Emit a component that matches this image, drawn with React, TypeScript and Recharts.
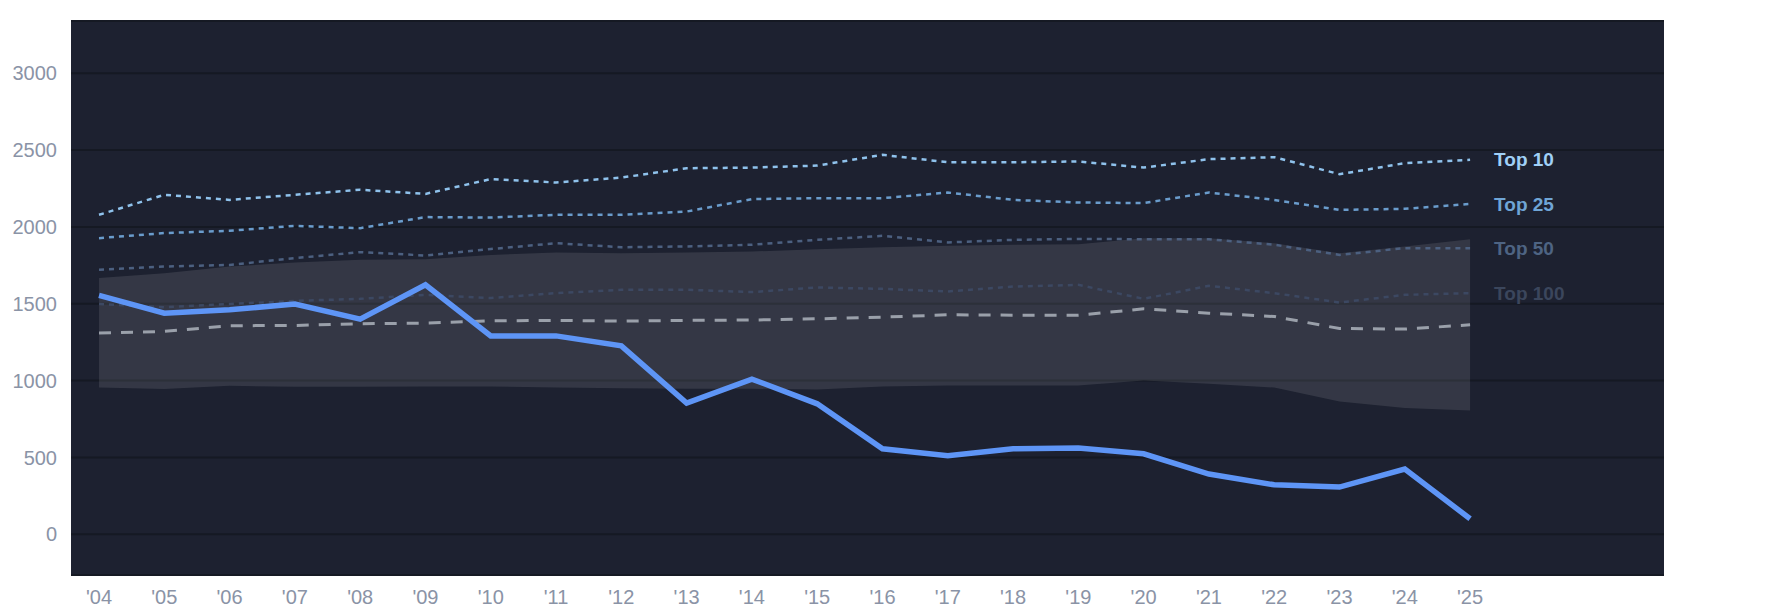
import {
  ComposedChart,
  Area,
  Line,
  XAxis,
  YAxis,
  CartesianGrid,
  LabelList,
} from "recharts";

const years = [
  2004, 2005, 2006, 2007, 2008, 2009, 2010, 2011, 2012, 2013, 2014, 2015,
  2016, 2017, 2018, 2019, 2020, 2021, 2022, 2023, 2024, 2025,
];
const top10 = [
  2079, 2209, 2176, 2209, 2242, 2215, 2311, 2289, 2321, 2382, 2386, 2399,
  2469, 2421, 2421, 2426, 2386, 2441, 2454, 2343, 2415, 2437,
];
const top25 = [
  1927, 1960, 1975, 2007, 1992, 2064, 2061, 2079, 2079, 2100, 2181, 2187,
  2187, 2224, 2176, 2159, 2155, 2224, 2176, 2111, 2118, 2150,
];
const top50 = [
  1721, 1742, 1753, 1797, 1836, 1814, 1856, 1894, 1868, 1873, 1884, 1916,
  1942, 1899, 1916, 1922, 1920, 1920, 1884, 1818, 1862, 1862,
];
const top100 = [
  1498, 1478, 1498, 1519, 1532, 1558, 1537, 1569, 1591, 1591, 1576, 1606,
  1597, 1580, 1612, 1623, 1532, 1617, 1569, 1508, 1558, 1569,
];
const median = [
  1309, 1320, 1357, 1359, 1370, 1374, 1389, 1392, 1387, 1392, 1394, 1402,
  1413, 1428, 1426, 1426, 1467, 1439, 1417, 1339, 1335, 1363,
];
const bandHigh = [
  1667, 1699, 1742, 1768, 1786, 1790, 1818, 1833, 1829, 1833, 1840, 1855,
  1868, 1877, 1884, 1888, 1927, 1927, 1894, 1829, 1873, 1920,
];
const bandLow = [
  955, 945, 966, 960, 960, 962, 962, 955, 951, 947, 947, 942, 962, 968, 968,
  968, 1001, 979, 955, 864, 821, 806,
];
const score = [
  1554, 1439, 1461, 1498, 1400, 1623, 1291, 1291, 1226, 853, 1010, 849, 556,
  511, 556, 561, 524, 392, 322, 307, 424, 101,
];
const yTicks = [0, 500, 1000, 1500, 2000, 2500, 3000];

const data = years.map((year, i) => ({
  year,
  top10: top10[i],
  top25: top25[i],
  top50: top50[i],
  top100: top100[i],
  median: median[i],
  band: [bandLow[i], bandHigh[i]],
  score: score[i],
}));

const FONT = "'Liberation Sans', Arial, Helvetica, sans-serif";

const endLabel = (text: string, color: string) => (props: any) => {
  if (props.index !== years.length - 1) return null;
  return (
    <text
      x={props.x + 24}
      y={props.y}
      dy="0.35em"
      fill={color}
      fontSize={19}
      fontWeight="bold"
      fontFamily={FONT}
    >
      {text}
    </text>
  );
};

export default function App() {
  return (
    <div style={{ width: 1769, height: 598 }}>
      <ComposedChart
        width={1769}
        height={604}
        data={data}
        margin={{ top: 13, right: 113, bottom: 6, left: 0 }}
        style={{ overflow: "visible" }}
      >
        <CartesianGrid
          vertical={false}
          stroke="#151923"
          strokeWidth={2}
          fill="#1d2130"
        />
        <XAxis
          dataKey="year"
          type="number"
          domain={[2003.571, 2027.97]}
          allowDataOverflow
          ticks={years}
          interval={0}
          tickFormatter={(v) => "'" + String(v).slice(2)}
          axisLine={false}
          tickLine={false}
          tickMargin={9}
          height={31}
          tick={{ fill: "#8a93a6", fontSize: 20, fontFamily: FONT }}
        />
        <YAxis
          type="number"
          domain={[-265, 3340]}
          allowDataOverflow
          ticks={yTicks}
          axisLine={false}
          tickLine={false}
          tickMargin={8}
          width={63}
          tick={{ fill: "#8a93a6", fontSize: 20, fontFamily: FONT }}
        />
        <Area
          type="linear"
          dataKey="band"
          stroke="none"
          fill="#ffffff"
          fillOpacity={0.1}
          isAnimationActive={false}
        />
        <Line
          type="linear"
          dataKey="top100"
          stroke="#3c4862"
          strokeWidth={2.5}
          strokeDasharray="5 5"
          dot={false}
          isAnimationActive={false}
        >
          <LabelList dataKey="top100" content={endLabel("Top 100", "#3b465c")} />
        </Line>
        <Line
          type="linear"
          dataKey="top50"
          stroke="#4c6080"
          strokeWidth={2.5}
          strokeDasharray="5 5"
          dot={false}
          isAnimationActive={false}
        >
          <LabelList dataKey="top50" content={endLabel("Top 50", "#4e6483")} />
        </Line>
        <Line
          type="linear"
          dataKey="top25"
          stroke="#6a9ccc"
          strokeWidth={2.5}
          strokeDasharray="5 5"
          dot={false}
          isAnimationActive={false}
        >
          <LabelList dataKey="top25" content={endLabel("Top 25", "#6fa5d6")} />
        </Line>
        <Line
          type="linear"
          dataKey="top10"
          stroke="#8fc2ec"
          strokeWidth={2.5}
          strokeDasharray="5 5"
          dot={false}
          isAnimationActive={false}
        >
          <LabelList dataKey="top10" content={endLabel("Top 10", "#a0d0f7")} />
        </Line>
        <Line
          type="linear"
          dataKey="median"
          stroke="#9aa0aa"
          strokeWidth={3}
          strokeDasharray="12 10"
          dot={false}
          isAnimationActive={false}
        />
        <Line
          type="linear"
          dataKey="score"
          stroke="#5e95f6"
          strokeWidth={5.5}
          dot={false}
          isAnimationActive={false}
        />
      </ComposedChart>
    </div>
  );
}
